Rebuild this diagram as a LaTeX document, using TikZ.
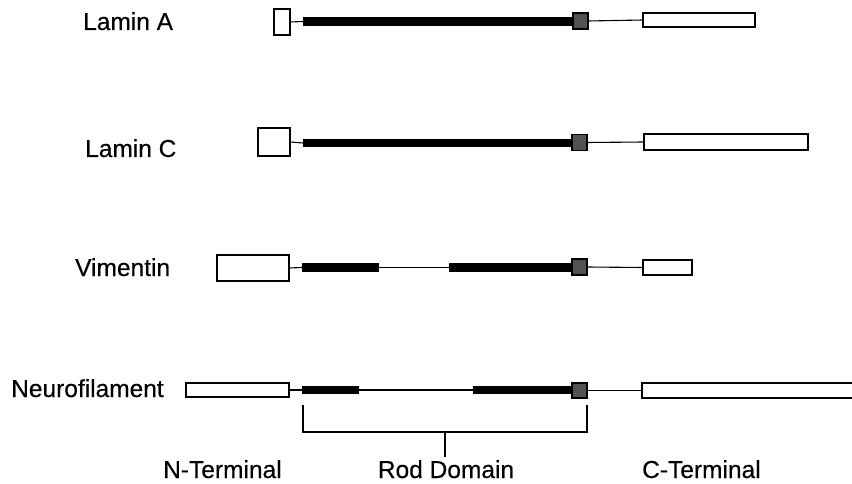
\documentclass[tikz,border=0pt]{standalone}
\usepackage{fontspec}
\setmainfont{Liberation Sans}
\newfontfamily\labfont{Liberation Sans}[FakeBold=0.35]
\begin{document}
\begin{tikzpicture}[x=1pt,y=-1pt,
  openbox/.style={draw=black,line width=1.5pt,fill=white,inner sep=0pt,outer sep=0pt,anchor=west},
  rodbar/.style={fill=black,draw=none,inner sep=0pt,outer sep=0pt,anchor=west},
  linker/.style={draw=black,line width=1.5pt,fill=black!68,inner sep=0pt,outer sep=0pt,anchor=west},
  thin/.style={line width=1.1pt},
  lab/.style={anchor=base west,inner sep=0pt,font=\labfont\fontsize{24.5}{29}\selectfont},
  brk/.style={line width=1.4pt}]
\useasboundingbox (0,0) rectangle (852,484);
\clip (0,0) rectangle (852,484);

% Lamin A
\node[lab] (tA) at (83,30) {Lamin A};
\node[openbox,minimum width=16,minimum height=26] (aH) at (274,22) {};
\node[rodbar,minimum width=270,minimum height=9] (aR) at (303,21.5) {};
\node[linker,minimum width=15,minimum height=16] (aG) at (573,21) {};
\node[openbox,minimum width=112,minimum height=14] (aT) at (643,20) {};
\draw[thin] (aH.east) -- (aR.west);
\draw[thin] (aG.east) -- (aT.west);

% Lamin C
\node[lab] (tC) at (85,157) {Lamin C};
\node[openbox,minimum width=32,minimum height=28] (cH) at (258,142) {};
\node[rodbar,minimum width=270,minimum height=8.5] (cR) at (303,143) {};
\node[linker,minimum width=15,minimum height=16] (cG) at (572,142.5) {};
\node[openbox,minimum width=164,minimum height=16] (cT) at (644,142) {};
\draw[thin] (cH.east) -- (cR.west);
\draw[thin] (cG.east) -- (cT.west);

% Vimentin
\node[lab] (tV) at (75,276) {Vimentin};
\node[openbox,minimum width=72,minimum height=26] (vH) at (217,268) {};
\node[rodbar,minimum width=77,minimum height=9] (vR1) at (302,267.5) {};
\node[rodbar,minimum width=124,minimum height=9] (vR2) at (449,267.5) {};
\node[linker,minimum width=15,minimum height=16] (vG) at (572,267) {};
\node[openbox,minimum width=49,minimum height=15] (vT) at (643,267.5) {};
\draw[thin] (vH.east) -- (vR1.west);
\draw[thin] (vR1.east) -- (vR2.west);
\draw[thin] (vG.east) -- (vT.west);

% Neurofilament
\node[lab] (tN) at (11,397) {Neurofilament};
\node[openbox,minimum width=103,minimum height=14] (nH) at (186,390) {};
\node[rodbar,minimum width=57,minimum height=8.5] (nR1) at (302,390) {};
\node[rodbar,minimum width=99,minimum height=8.5] (nR2) at (473,390) {};
\node[linker,minimum width=15,minimum height=15] (nG) at (572,390.5) {};
\node[openbox,minimum width=230,minimum height=15] (nT) at (642,390.5) {};
\draw[thin] (nH.east) -- (nR1.west);
\draw[thin] (nR1.east) -- (nR2.west);
\draw[thin] (nG.east) -- (nT.west);

% Rod domain bracket
\coordinate (bL) at (303,405);
\coordinate (bR) at (587,405);
\coordinate (bM) at (445,432);
\coordinate (bS) at (445,457);
\draw[brk] (bL) |- (bR |- bM) -- (bR);
\draw[brk] (bM) -- (bS);

% Region labels
\node[lab] (lN) at (163,478) {N-Terminal};
\node[lab,anchor=base] (lR) at (446,478) {Rod Domain};
\node[lab] (lC) at (642,478) {C-Terminal};
\end{tikzpicture}
\end{document}
